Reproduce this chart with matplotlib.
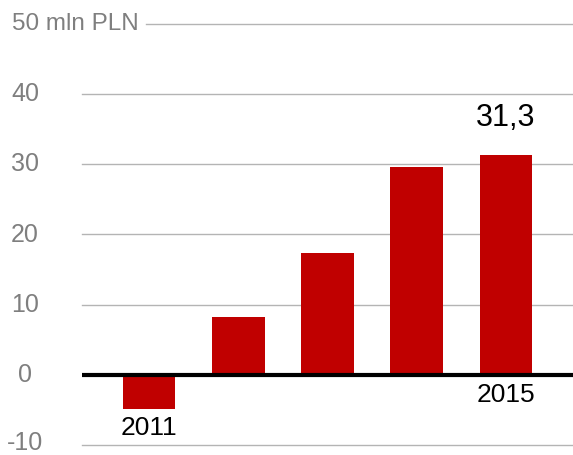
import matplotlib
matplotlib.use("Agg")
import matplotlib.pyplot as plt
from matplotlib.transforms import blended_transform_factory

years = ["2011", "2012", "2013", "2014", "2015"]
values = [-4.9, 8.3, 17.3, 29.6, 31.3]
ytick_values = [-10, 0, 10, 20, 30, 40]
ytick_labels = ["-10", "0", "10", "20", "30", "40"]
top_value = 50
top_label = "50 mln PLN"
value_label = "31,3"

plt.rcParams['font.family'] = ['Liberation Sans', 'DejaVu Sans']

W, H = 573, 455
fig = plt.figure(figsize=(W / 100, H / 100), dpi=100)
ax = fig.add_axes([82 / W, (H - 445) / H, (W - 82) / W, (445 - 24) / H])
ax.set_xlim(-0.75, 4.75)
ax.set_ylim(-10, 50)
ax.axis('off')

grid_color = '#b4b4b4'
for v in ytick_values:
    if v == 0:
        continue
    ax.axhline(v, color=grid_color, lw=1.0, zorder=1, clip_on=False)
ax.axhline(top_value, xmin=(146 - 82) / (W - 82), xmax=1, color=grid_color,
           lw=1.0, zorder=1, clip_on=False)

x = list(range(len(years)))
ax.bar(x, values, width=0.59, color='#c00000', zorder=2)
ax.axhline(0, color='black', lw=3.0, zorder=3)

trans = blended_transform_factory(fig.transFigure, ax.transData)
label_color = '#7f7f7f'
for v, lab in zip(ytick_values, ytick_labels):
    yv = v + 0.35 if v == ytick_values[0] else v
    ax.text(25 / W, yv, lab, transform=trans, ha='center', va='center',
            fontsize=18, color=label_color)
ax.text(12 / W, top_value, top_label, transform=trans, ha='left', va='center',
        fontsize=17.5, color=label_color)

ax.text(x[0], values[0] - 2.7, years[0], ha='center', va='center', fontsize=19, color='black')
ax.text(x[-1], -2.85, years[-1], ha='center', va='center', fontsize=19, color='black')
ax.text(x[-1], values[-1] + 5.3, value_label, ha='center', va='center', fontsize=22, color='black')

fig.savefig('out.png', dpi=100)
